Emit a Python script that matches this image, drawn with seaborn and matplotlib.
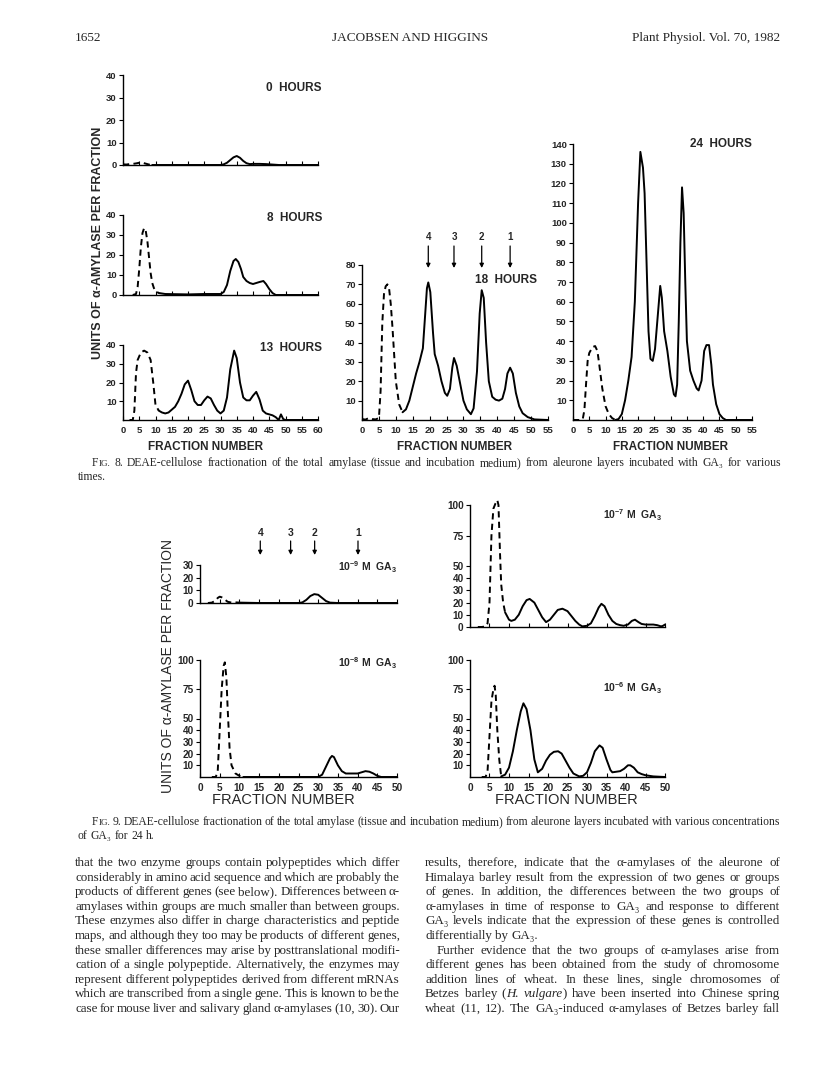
import matplotlib
matplotlib.use('Agg')
import matplotlib.pyplot as plt
from matplotlib.transforms import IdentityTransform
import seaborn as sns

sns.set_theme(style="white")
SANS = ['Liberation Sans', 'DejaVu Sans']
SERIF = ['Liberation Serif', 'DejaVu Serif']
plt.rcParams['font.family'] = SANS
plt.rcParams['mathtext.fontset'] = 'custom'
plt.rcParams['mathtext.rm'] = 'Liberation Sans:bold'
plt.rcParams['mathtext.it'] = 'Liberation Sans:bold'

W, H = 816, 1073

# ---- Fig. 8 data (fraction number, units per fraction) ----
h0_dash_x = [0, 1, 2, 3, 4, 5, 6, 7, 8, 9]
h0_dash_y = [0.3, 0.2, 0.4, 0.5, 0.7, 1.0, 1.0, 0.6, 0.2, 0.0]
h0_solid_x = [9, 15, 20, 25, 30, 31, 32, 33, 34, 35, 36, 37, 38, 39, 40, 42, 44, 46, 48, 55, 60]
h0_solid_y = [0, 0, 0, 0, 0, 0.3, 1.0, 2.2, 3.4, 4.0, 3.2, 1.8, 0.8, 0.4, 0.5, 0.5, 0.4, 0.2, 0, 0, 0]

h8_dash_x = [3, 4, 4.5, 5, 5.5, 6, 6.5, 7, 7.5, 8, 8.5, 9, 9.5, 10, 11]
h8_dash_y = [0, 0.5, 4, 13, 24, 31, 33.5, 32, 27, 19, 11, 6, 3.5, 2, 1]
h8_solid_x = [11, 13, 20, 25, 30, 31, 32, 33, 34, 34.7, 35.5, 36.3, 37, 38, 39, 40, 41, 42, 43.2, 44, 45, 46, 47, 60]
h8_solid_y = [1, 0.5, 0.3, 0.5, 0.5, 1.5, 5, 12, 17, 18, 16.5, 13, 9, 7, 6, 5.5, 6, 6.5, 7, 5.5, 3, 1, 0, 0]

h13_dash_x = [2, 3, 3.5, 4, 4.5, 5.5, 6.5, 7.5, 8.5, 9.3, 10, 11]
h13_dash_y = [0, 0, 5, 25, 32, 36, 37, 36, 32, 20, 8, 5]
h13_solid_x = [11, 12, 13, 14, 15, 16, 17, 18, 19, 20, 21, 22, 23, 24, 25, 26, 27, 28, 29, 30,
               31, 32, 33, 34.2, 35, 36, 37, 38, 39, 40, 41, 42, 43, 44, 45, 46, 47, 47.9, 48.6,
               49.3, 50, 60]
h13_solid_y = [5, 4, 3.5, 4, 5.5, 7, 10, 14, 19, 21, 16, 10, 8, 8, 10.5, 12.5, 11.5, 8, 5, 3.5,
               5, 12, 27, 37, 33, 20, 12, 10.5, 10.5, 13, 15, 11, 5, 3.5, 3, 2.5, 1.5, 0, 3,
               0.5, 0, 0]

h18_dash_x = [0, 1, 2, 3, 4, 5, 5.5, 6, 6.5, 7, 7.5, 8, 8.5, 9, 10, 11, 12]
h18_dash_y = [0.5, 0.2, 1, 0.5, 0.3, 1, 15, 50, 65, 69, 70, 68, 60, 48, 20, 8, 4]
h18_solid_x = [12, 13, 14, 15, 16, 17, 18, 18.7, 19.2, 19.6, 20.2, 21, 21.5, 22.5, 23.5, 24.5,
               25.2, 26, 26.7, 27.2, 28, 29, 30, 31, 32.2, 33, 34, 34.8, 35.4, 36, 36.7, 37.5,
               38.5, 39.5, 40.5, 41.5, 42.3, 43, 43.8, 44.6, 45.5, 46.5, 47.5, 49, 51, 55]
h18_solid_y = [4, 5.5, 10, 17, 24, 30, 37, 55, 68, 71, 66, 45, 34, 28, 20, 14,
               12.5, 16, 27, 32, 28, 19, 10, 5.5, 3, 6, 25, 55, 67, 63, 40, 20,
               12, 10.5, 10, 11, 16, 24, 27, 24, 14, 7, 3.5, 1.5, 0.3, 0]

h24_dash_x = [0, 2, 3, 3.5, 4, 4.5, 5, 6, 6.8, 7.5, 8, 9, 10, 11, 12, 13]
h24_dash_y = [0, 0, 0.5, 5, 18, 30, 34, 37, 37.5, 35, 29, 16, 7, 3, 1, 0]
h24_solid_x = [13, 14, 15, 16, 17, 18, 19, 20, 20.7, 21.5, 22, 22.6, 23.2, 23.8, 24.5, 25.2,
               26, 26.8, 27.3, 28, 29, 30, 31, 31.5, 32, 32.5, 33, 33.5, 34, 34.5, 35, 36, 37,
               38, 38.6, 39.5, 40.3, 41, 41.8, 42.5, 43, 44, 45, 46, 47, 55]
h24_solid_y = [0, 0.5, 3, 10, 20, 32, 60, 110, 136, 128, 115, 80, 45, 31, 30, 36,
               52, 68, 62, 45, 35, 22, 13, 12, 18, 50, 90, 118, 105, 70, 40, 25, 20,
               16, 15, 20, 35, 38, 38, 28, 18, 8, 3, 1, 0, 0]

# ---- Fig. 9 data ----
m9_dash_x = [2, 3, 4, 4.5, 5, 5.5, 6, 7, 8, 9, 10]
m9_dash_y = [0, 0.3, 2, 4, 5, 4.5, 3.5, 1, 0.3, 0.5, 0.3]
m9_solid_x = [10, 15, 20, 25, 26, 27, 28, 29, 30, 31, 32, 33, 35, 40, 45, 50]
m9_solid_y = [0.3, 0, 0, 0, 0.5, 2.5, 5.5, 7, 6.5, 4, 1.5, 0.3, 0, 0, 0, 0]

m8_dash_x = [3, 4, 4.5, 5, 5.5, 6, 6.3, 6.7, 7, 7.5, 8, 9, 10, 11]
m8_dash_y = [0, 0, 5, 40, 75, 95, 98, 85, 60, 25, 10, 3, 1, 0]
m8_solid_x = [11, 20, 30, 31, 32, 33, 33.5, 34, 35, 36, 37, 38, 40, 41, 42, 43, 44, 45, 46, 50]
m8_solid_y = [0, 0, 0, 2, 9, 16, 18, 17, 10, 5, 3, 3, 3, 4, 5, 4.5, 3, 1, 0, 0]

m7_dash_x = [2, 3, 4, 4.5, 5, 5.5, 6, 6.5, 7, 7.3, 7.7, 8, 8.5, 9]
m7_dash_y = [0, 0, 0.5, 3, 20, 75, 97, 101, 104, 100, 60, 35, 20, 12]
m7_solid_x = [9, 10, 10.6, 11.5, 12.5, 13.5, 14.5, 15.3, 16.5, 17.5, 18.5, 19.5, 20.5, 21.5,
              22.5, 23.7, 25, 26, 27, 28, 28.8, 30, 31, 32, 33, 33.7, 34.5, 35.5, 36.5, 37.5,
              38.5, 39.4, 40.5, 41.5, 42.3, 43.2, 44, 45, 47, 48, 49, 49.5, 50]
m7_solid_y = [12, 6, 5, 6, 10, 17, 22, 23, 20, 14, 8, 4, 6, 10,
              14, 15, 13, 9, 5, 2, 0.5, 1, 3, 9, 16, 19, 17, 10, 5, 2.5,
              1.5, 1, 2, 5, 6, 4, 2.5, 2, 2, 1.5, 0.5, 1, 2]

m6_dash_x = [3, 4, 4.5, 5, 5.5, 6, 6.3, 6.6, 7, 7.5, 8]
m6_dash_y = [0, 0, 5, 35, 65, 75, 78, 70, 40, 15, 0.5]
m6_solid_x = [8, 9, 10, 11, 12, 13, 13.7, 14.5, 15.5, 16.5, 17.4, 18.5, 19.5, 20.5, 21.5, 22.6,
              23.5, 24.5, 25.5, 26.5, 28, 29, 30, 31, 32, 33.2, 34, 35, 36, 36.5, 37.5, 38.5,
              39.5, 40.5, 41.1, 42, 43, 44, 45, 47, 50]
m6_solid_y = [0.5, 2, 8, 22, 40, 56, 63, 58, 40, 15, 4, 7, 14, 19, 21.5, 22,
              20, 14, 8, 3, 0.5, 1, 4, 12, 22, 27, 25, 15, 6, 4, 4.5, 5,
              7, 10, 10, 8, 4, 2.5, 1.5, 0.5, 0]

arrow_labels = ['4', '3', '2', '1']
arrows_fig8 = [19.6, 27.2, 35.4, 43.8]
arrows_fig9 = [15.3, 23.0, 29.1, 40.1]

fig = plt.figure(figsize=(W / 100, H / 100), dpi=100)


def panel(x0, x1, ytop, ybot, xmax, ymax, yticks, dash, solid, xlabels, tsize=6.8):
    ax = fig.add_axes([x0 / W, 1 - ybot / H, (x1 - x0) / W, (ybot - ytop) / H])
    sns.lineplot(x=dash[0], y=dash[1], ax=ax, color='black', lw=1.4, estimator=None,
                 linestyle=(0, (3.2, 2.2)), clip_on=False)
    sns.lineplot(x=solid[0], y=solid[1], ax=ax, color='black', lw=1.4, estimator=None,
                 clip_on=False)
    ax.set_xlim(0, xmax)
    ax.set_ylim(0, ymax)
    ax.set_xlabel('')
    ax.set_ylabel('')
    ax.set_facecolor('none')
    for s in ['top', 'right']:
        ax.spines[s].set_visible(False)
    for s in ['left', 'bottom']:
        ax.spines[s].set_color('black')
        ax.spines[s].set_linewidth(1.0)
    ax.set_xticks(range(0, xmax + 1, 5))
    ax.set_yticks(yticks)
    ax.tick_params(axis='x', direction='in', length=3, width=0.8, color='black', pad=4,
                   labelsize=tsize, labelbottom=xlabels, bottom=True)
    ax.tick_params(axis='y', direction='out', length=3, width=0.8, color='black', pad=1.5,
                   labelsize=tsize, left=True)
    for t in ax.get_xticklabels() + ax.get_yticklabels():
        t.set_fontweight('bold')
    return ax


def label(x, y, s, size=8.5, ha='right', weight='bold', **kw):
    fig.text(x / W, 1 - y / H, s, fontsize=size, ha=ha, va='center', fontweight=weight, **kw)


def arrows(ax, ybot, ytop, xs, y_lab, y_tail, y_tip, size=7):
    hgt = ybot - ytop
    tr = ax.get_xaxis_transform()
    for lab, fx in zip(arrow_labels, xs):
        ax.text(fx, (ybot - y_lab) / hgt, lab, transform=tr, ha='center', va='center',
                fontsize=size, fontweight='bold', clip_on=False)
        ax.annotate('', xy=(fx, (ybot - y_tip) / hgt), xytext=(fx, (ybot - y_tail) / hgt),
                    xycoords=tr, textcoords=tr,
                    arrowprops=dict(arrowstyle='-|>', lw=0.9, color='black',
                                    mutation_scale=6, shrinkA=0, shrinkB=0))


# Fig. 8
panel(123, 318, 75, 165, 60, 40, [0, 10, 20, 30, 40], (h0_dash_x, h0_dash_y), (h0_solid_x, h0_solid_y), False)
panel(123, 318, 215, 295, 60, 40, [0, 10, 20, 30, 40], (h8_dash_x, h8_dash_y), (h8_solid_x, h8_solid_y), False)
panel(123, 318, 345, 420, 60, 40, [10, 20, 30, 40], (h13_dash_x, h13_dash_y), (h13_solid_x, h13_solid_y), True)
ax18 = panel(362, 548, 265, 420, 55, 80, list(range(10, 81, 10)), (h18_dash_x, h18_dash_y), (h18_solid_x, h18_solid_y), True)
panel(573, 752, 144, 420, 55, 140, list(range(10, 141, 10)), (h24_dash_x, h24_dash_y), (h24_solid_x, h24_solid_y), True)
arrows(ax18, 420, 265, arrows_fig8, 237, 246, 268)

label(322, 88, '0  HOURS')
label(322, 218, '8  HOURS')
label(322, 348, '13  HOURS')
label(537, 280, '18  HOURS')
label(752, 144, '24  HOURS')
for cx in [206, 455, 671]:
    label(cx, 447, 'FRACTION NUMBER', size=8.5, ha='center')
fig.text(98 / W, 1 - 243 / H, 'UNITS OF α-AMYLASE PER FRACTION', rotation=90, fontsize=9,
         ha='center', va='center', fontweight='bold')

# Fig. 9
ax9 = panel(200, 397, 565, 603, 50, 30, [0, 10, 20, 30], (m9_dash_x, m9_dash_y), (m9_solid_x, m9_solid_y), False, 7.2)
panel(200, 397, 660, 777, 50, 100, [10, 20, 30, 40, 50, 75, 100], (m8_dash_x, m8_dash_y), (m8_solid_x, m8_solid_y), True, 7.2)
panel(470, 665, 505, 627, 50, 100, [0, 10, 20, 30, 40, 50, 75, 100], (m7_dash_x, m7_dash_y), (m7_solid_x, m7_solid_y), False, 7.2)
panel(470, 665, 660, 777, 50, 100, [10, 20, 30, 40, 50, 75, 100], (m6_dash_x, m6_dash_y), (m6_solid_x, m6_solid_y), True, 7.2)
arrows(ax9, 603, 565, arrows_fig9, 533, 541, 555, 7.5)

label(397, 567, r'10$^{-9}$ M  GA$_3$', size=7.5)
label(397, 663, r'10$^{-8}$ M  GA$_3$', size=7.5)
label(662, 515, r'10$^{-7}$ M  GA$_3$', size=7.5)
label(662, 688, r'10$^{-6}$ M  GA$_3$', size=7.5)
for cx in [283, 566]:
    label(cx, 800, 'FRACTION NUMBER', size=10.5, ha='center', weight='normal')
fig.text(168 / W, 1 - 666 / H, 'UNITS OF α-AMYLASE PER FRACTION', rotation=90, fontsize=10,
         ha='center', va='center')

# ---- page text ----
rend = fig.canvas.get_renderer()


def segments(word):
    if word == 'FIG.':
        return [('F', 'normal', 1.0), ('IG.', 'normal', 0.78)]
    parts = word.split('_')
    return [(p, 'italic' if i % 2 else 'normal', 1.0) for i, p in enumerate(parts) if p]


def put_line(text, x0, x1, y, size, justify=True):
    items = []
    for w in text.split():
        segs = []
        for s, style, k in segments(w):
            t = fig.text(0, 0, s, transform=IdentityTransform(), fontsize=size * k,
                         style=style, family=SERIF, ha='left', va='baseline')
            segs.append((t, t.get_window_extent(rend).width))
        items.append(segs)
    widths = [sum(wd for _, wd in segs) for segs in items]
    if justify and len(items) > 1:
        gap = (x1 - x0 - sum(widths)) / (len(items) - 1)
    else:
        gap = size * 0.25 * 100 / 72
    x = x0
    for segs, wd in zip(items, widths):
        xx = x
        for t, sw in segs:
            t.set_position((xx, H - y))
            xx += sw
        x += wd + gap


put_line('1652', 75, 110, 41, 9.5, False)
fig.text(410, H - 41, 'JACOBSEN AND HIGGINS', transform=IdentityTransform(), fontsize=9.5,
         family=SERIF, ha='center', va='baseline')
fig.text(780, H - 41, 'Plant Physiol. Vol. 70, 1982', transform=IdentityTransform(),
         fontsize=9.5, family=SERIF, ha='right', va='baseline')

put_line('FIG. 8. DEAE-cellulose fractionation of the total amylase (tissue and incubation '
         'medium) from aleurone layers incubated with GA₃ for various', 92, 780, 466, 8.4)
put_line('times.', 78, 780, 480, 8.4, False)
put_line('FIG. 9. DEAE-cellulose fractionation of the total amylase (tissue and incubation '
         'medium) from aleurone layers incubated with various concentrations', 92, 780, 825, 8.4)
put_line('of GA₃ for 24 h.', 78, 780, 839, 8.4, False)

left_col = [
    'that the two enzyme groups contain polypeptides which differ',
    'considerably in amino acid sequence and which are probably the',
    'products of different genes (see below). Differences between α-',
    'amylases within groups are much smaller than between groups.',
    'These enzymes also differ in charge characteristics and peptide',
    'maps, and although they too may be products of different genes,',
    'these smaller differences may arise by posttranslational modifi-',
    'cation of a single polypeptide. Alternatively, the enzymes may',
    'represent different polypeptides derived from different mRNAs',
    'which are transcribed from a single gene. This is known to be the',
    'case for mouse liver and salivary gland α-amylases (10, 30). Our',
]
right_col = [
    'results, therefore, indicate that the α-amylases of the aleurone of',
    'Himalaya barley result from the expression of two genes or groups',
    'of genes. In addition, the differences between the two groups of',
    'α-amylases in time of response to GA₃ and response to different',
    'GA₃ levels indicate that the expression of these genes is controlled',
    'differentially by GA₃.',
    'Further evidence that the two groups of α-amylases arise from',
    'different genes has been obtained from the study of chromosome',
    'addition lines of wheat. In these lines, single chromosomes of',
    'Betzes barley (_H._ _vulgare_) have been inserted into Chinese spring',
    'wheat (11, 12). The GA₃-induced α-amylases of Betzes barley fall',
]
y0, dy = 866, 14.6
for i, s in enumerate(left_col):
    put_line(s, 75, 400, y0 + i * dy, 9.4)
for i, s in enumerate(right_col):
    x_start = 437 if i == 6 else 425
    put_line(s, x_start, 780, y0 + i * dy, 9.4, justify=(i != 5))

fig.savefig('out.png', dpi=100)
